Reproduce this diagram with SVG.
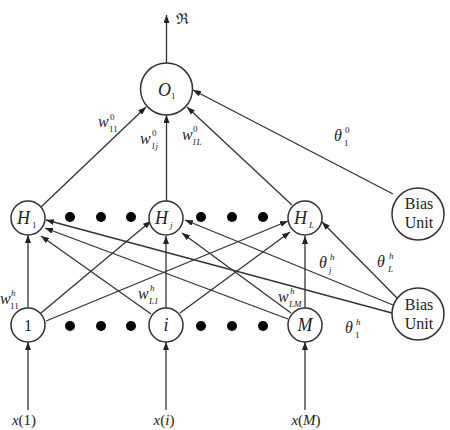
<svg xmlns="http://www.w3.org/2000/svg" width="450" height="430" viewBox="0 0 450 430">
<defs>
<marker id="ah" markerWidth="8" markerHeight="6" refX="8" refY="3" orient="auto" markerUnits="userSpaceOnUse">
<path d="M0,0 L8,3 L0,6 z" fill="#222"/>
</marker>
<style>
.n{fill:#fff;stroke:#333;stroke-width:1.5}
.c path{fill:none;stroke:#333;stroke-width:1.3;marker-end:url(#ah)}
.d{fill:#000}
text{font-family:"Liberation Serif","DejaVu Serif",serif;fill:#222}
.it{font-style:italic;font-size:18px}
.lb{font-style:italic;font-size:16px}
.s{font-size:9px;font-style:italic}
.su{font-size:9px;font-style:normal}
.b{font-size:16px;text-anchor:middle}
.x{font-size:15px;text-anchor:middle}
</style>
</defs>
<rect width="450" height="430" fill="#fff"/>

<g id="connectors" class="c">
<path d="M28,410 L28,342"/>
<path d="M166,410 L166,342"/>
<path d="M305,410 L305,342"/>
<path d="M166.5,63 L166.5,15"/>
<path d="M28,308 L28,235"/>
<path d="M41,313 L151,221"/>
<path d="M46,321 L288,221"/>
<path d="M151,314 L41,236"/>
<path d="M166,308 L166,236"/>
<path d="M180,313 L290,232"/>
<path d="M288,319 L45,228"/>
<path d="M291,313 L182,233"/>
<path d="M305,308 L305,236"/>
<path d="M392,313 L46,220"/>
<path d="M393,305 L185,220"/>
<path d="M397,298 L322,222"/>
<path d="M41,207 L146,107"/>
<path d="M166.5,201 L166.5,115"/>
<path d="M292,205 L187,107"/>
<path d="M393,194 L193,90"/>
</g>

<g id="dots">
<circle class="d" cx="70" cy="217" r="5"/>
<circle class="d" cx="101" cy="217" r="5"/>
<circle class="d" cx="131" cy="217" r="5"/>
<circle class="d" cx="201" cy="217" r="5"/>
<circle class="d" cx="232" cy="217" r="5"/>
<circle class="d" cx="263" cy="217" r="5"/>
<circle class="d" cx="70" cy="326" r="5"/>
<circle class="d" cx="101" cy="326" r="5"/>
<circle class="d" cx="131" cy="326" r="5"/>
<circle class="d" cx="201" cy="326" r="5"/>
<circle class="d" cx="232" cy="326" r="5"/>
<circle class="d" cx="263" cy="326" r="5"/>
</g>

<g id="O1"><circle class="n" cx="166.5" cy="89" r="26"/><text class="it" x="158" y="96">O</text><text class="su" x="171" y="99">1</text></g>
<g id="H1"><circle class="n" cx="28" cy="218" r="17"/><text class="it" x="17" y="224">H</text><text class="su" x="32" y="228">1</text></g>
<g id="Hj"><circle class="n" cx="166" cy="218" r="17"/><text class="it" x="155" y="224">H</text><text class="s" x="170" y="228">j</text></g>
<g id="HL"><circle class="n" cx="305" cy="218" r="17"/><text class="it" x="294" y="224">H</text><text class="s" x="309" y="228">L</text></g>
<g id="BiasTop"><circle class="n" cx="418" cy="214" r="26"/><text class="b" x="419" y="209">Bias</text><text class="b" x="419" y="228">Unit</text></g>
<g id="I1"><circle class="n" cx="28" cy="325" r="17"/><text class="b" x="28" y="331">1</text></g>
<g id="Ii"><circle class="n" cx="166" cy="325" r="17"/><text class="it" x="166" y="331" text-anchor="middle">i</text></g>
<g id="IM"><circle class="n" cx="305" cy="325" r="17"/><text class="it" x="305" y="331" text-anchor="middle">M</text></g>
<g id="BiasBot"><circle class="n" cx="418" cy="314" r="26"/><text class="b" x="419" y="310">Bias</text><text class="b" x="419" y="329">Unit</text></g>

<g id="labels">
<text x="176" y="24" style="font-family:'DejaVu Serif',serif;font-size:15px">ℜ</text>
<text class="x" x="24" y="425"><tspan font-style="italic">x</tspan>(1)</text>
<text class="x" x="164" y="425"><tspan font-style="italic">x</tspan>(<tspan font-style="italic">i</tspan>)</text>
<text class="x" x="306" y="425"><tspan font-style="italic">x</tspan>(<tspan font-style="italic">M</tspan>)</text>

<text class="lb" x="98" y="127">w</text><text class="su" x="110" y="120">0</text><text class="su" x="109" y="132">11</text>
<text class="lb" x="140" y="144">w</text><text class="su" x="152" y="136">0</text><text class="s" x="151" y="149">1j</text>
<text class="lb" x="182" y="140">w</text><text class="su" x="193" y="132">0</text><text class="s" x="192" y="145">1L</text>
<text class="lb" x="334" y="141">θ</text><text class="su" x="345" y="133">0</text><text class="su" x="344" y="146">1</text>

<text class="lb" x="0" y="304">w</text><text class="s" x="11" y="296">h</text><text class="su" x="10" y="309">11</text>
<text class="lb" x="138" y="299">w</text><text class="s" x="150" y="291">h</text><text class="s" x="149" y="304">L1</text>
<text class="lb" x="278" y="302">w</text><text class="s" x="290" y="294">h</text><text class="s" x="289" y="307">LM</text>

<text class="lb" x="319" y="268">θ</text><text class="s" x="330" y="260">h</text><text class="s" x="329" y="273">j</text>
<text class="lb" x="377" y="267">θ</text><text class="s" x="389" y="259">h</text><text class="s" x="388" y="272">L</text>
<text class="lb" x="345" y="333">θ</text><text class="s" x="356" y="325">h</text><text class="su" x="355" y="338">1</text>
</g>
</svg>
